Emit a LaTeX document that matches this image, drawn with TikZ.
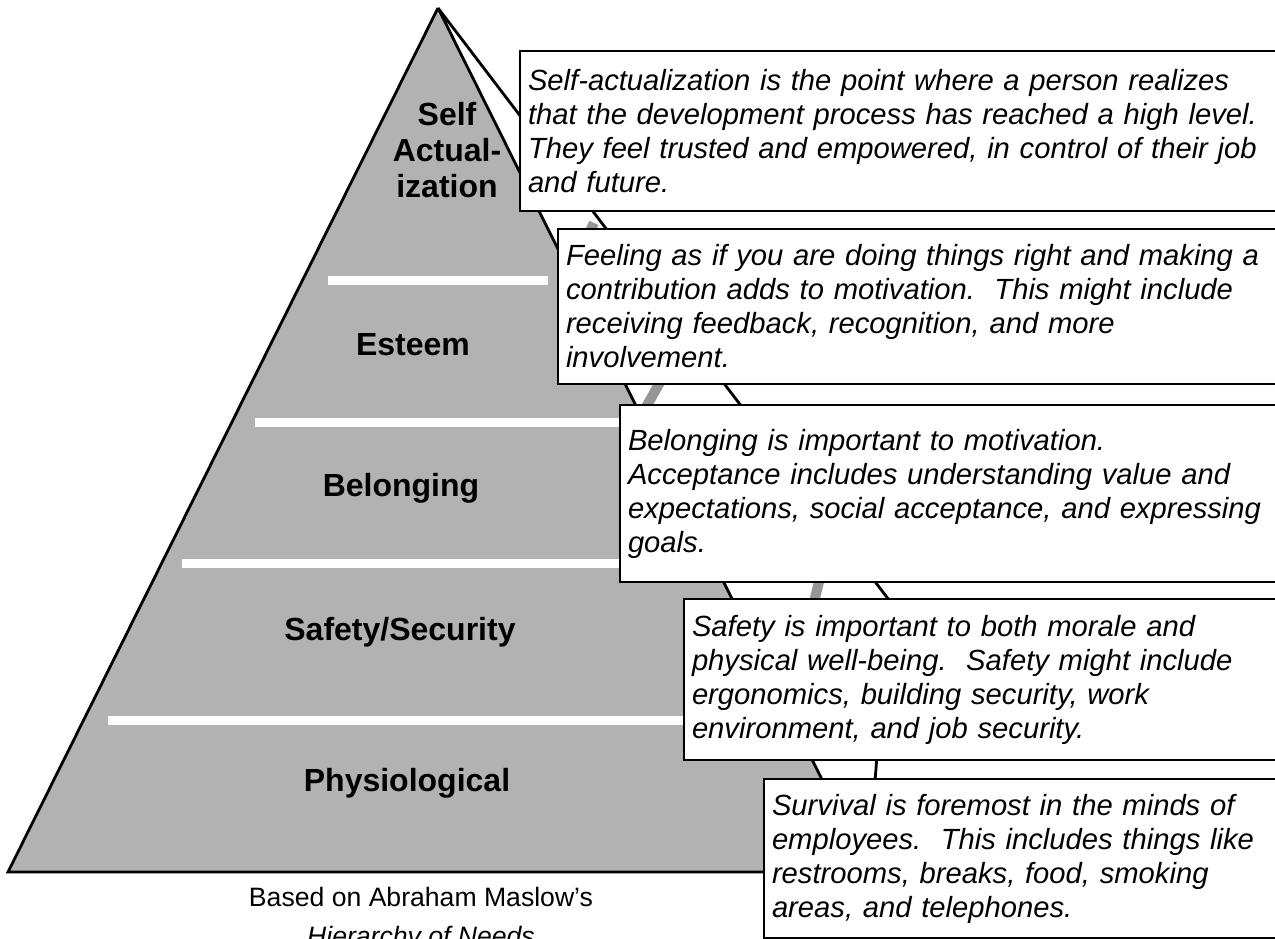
\documentclass[tikz,border=0pt]{standalone}
\usepackage{fontspec}
\setmainfont{Liberation Sans}
\usetikzlibrary{positioning}

\definecolor{pyrgray}{RGB}{178,178,178}
\definecolor{leadgray}{RGB}{150,150,150}

\begin{document}
\begin{tikzpicture}[x=0.5pt, y=-0.5pt,
  edge/.style={line width=1.4pt, line join=miter},
  level/.style={white, line width=4.5pt},
  leader/.style={leadgray, line width=5pt},
  tier/.style={font=\fontsize{16}{18}\selectfont\bfseries, align=center},
  descbox/.style={draw, line width=1pt, fill=white, anchor=north west, align=left,
    text width=400pt, inner xsep=4pt, inner ysep=0pt,
    font=\fontsize{14.6}{17}\selectfont\itshape\frenchspacing}]
  \useasboundingbox (0,0) rectangle (1275,938);
  \clip (0,0) rectangle (1275,938);

  % Pyramid corners
  \coordinate (apex) at (438,8);
  \coordinate (bl) at (8,872);
  \coordinate (br) at (868,872);
  \coordinate (back) at (889,600);

  % Faces
  \fill[pyrgray] (apex) -- (bl) -- (br) -- cycle;
  \filldraw[fill=white, edge] (apex) -- (br) -- (back) -- cycle;
  \draw[edge] (apex) -- (bl) -- (br);

  % Level separators
  \draw[level] (328,280) -- (548,280);
  \draw[level] (255,422) -- (621,422);
  \draw[level] (182,563) -- (692,563);
  \draw[level] (108,720) -- (766,720);

  % Leader lines (mostly behind the boxes)
  \draw[leader] (594,223) -- (575,262);
  \draw[leader] (667,370) -- (641,416);
  \draw[leader] (822,570) -- (812,610);

  % Level names
  \node[tier] (selfact) at (447,150) {Self\\Actual-\\ization};
  \node[tier] (esteem) at (413,345) {Esteem};
  \node[tier] (belong) at (401,488) {Belonging};
  \node[tier] (safety) at (400,632) {Safety/Security};
  \node[tier] (physio) at (407,783) {Physiological};

  % Descriptions
  \node[descbox, minimum height=80pt] (selfbox) at (519,50)
    {Self-actualization is the point where a person realizes\\
     that the development process has reached a high level.\\
     They feel trusted and empowered, in control of their job\\
     and future.};
  \node[descbox, minimum height=77.5pt] (esteembox) at (557,228)
    {Feeling as if you are doing things right and making a\\
     contribution adds to motivation.~ This might include\\
     receiving feedback, recognition, and more\\
     involvement.};
  \node[descbox, minimum height=88.5pt] (belongbox) at (619,404)
    {Belonging is important to motivation.\\
     Acceptance includes understanding value and\\
     expectations, social acceptance, and expressing\\
     goals.};
  \node[descbox, minimum height=80.5pt] (safetybox) at (683,598)
    {Safety is important to both morale and\\
     physical well-being.~ Safety might include\\
     ergonomics, building security, work\\
     environment, and job security.};
  \node[descbox, minimum height=79.5pt] (physiobox) at (763,778)
    {Survival is foremost in the minds of\\
     employees.~ This includes things like\\
     restrooms, breaks, food, smoking\\
     areas, and telephones.};

  % Source
  \node[font=\fontsize{13.3}{19.5}\selectfont, align=center] (source) at (421,919)
    {Based on Abraham Maslow’s\\\textit{Hierarchy of Needs}};
\end{tikzpicture}
\end{document}
